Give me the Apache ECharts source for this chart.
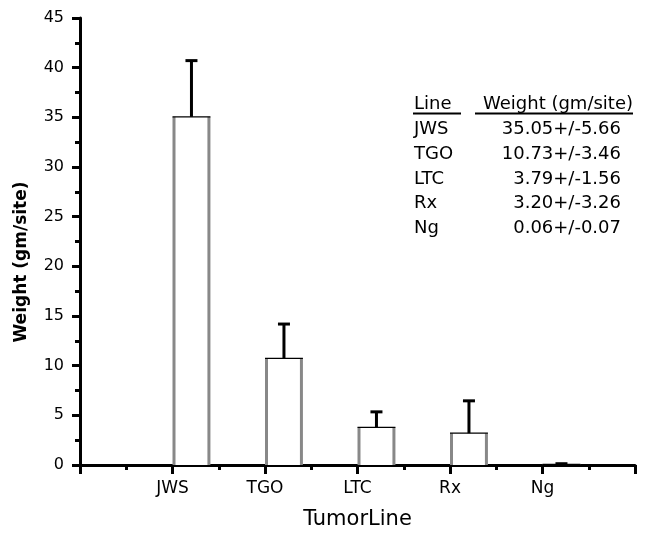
<!DOCTYPE html>
<html>
<head>
<meta charset="utf-8">
<script src="https://cdn.jsdelivr.net/npm/echarts@6/dist/echarts.min.js"></script>
<style>html,body{margin:0;padding:0;background:#fff;}#c{width:646px;height:535px;}</style>
</head>
<body>
<div id="c"></div>
<script>
var categories = ['JWS', 'TGO', 'LTC', 'Rx', 'Ng'];
var means = [35.05, 10.73, 3.79, 3.20, 0.06];
var errors = [5.66, 3.46, 1.56, 3.26, 0.07];
var yTicks = [0, 5, 10, 15, 20, 25, 30, 35, 40, 45];
var xTitle = 'TumorLine';
var yTitle = 'Weight (gm/site)';
var tableHeader = ['Line', 'Weight (gm/site)'];

var FONT = 'DejaVu Sans';
var chart = echarts.init(document.getElementById('c'), null, {renderer: 'canvas'});

var seriesData = categories.map(function (c, i) { return [i + 1, means[i], errors[i]]; });

function renderBar(params, api) {
  var xv = api.value(0), m = api.value(1), e = api.value(2);
  var base = api.coord([xv, 0]);
  var top = api.coord([xv, m]);
  var errTop = api.coord([xv, m + e]);
  var w = api.size([0.41, 0])[0];
  var x0 = base[0] + 1.5, x1 = base[0] + w - 1.5;
  var cx = base[0] + w / 2;
  return {
    type: 'group',
    children: [
      {type: 'rect', shape: {x: x0, y: top[1], width: x1 - x0, height: base[1] - top[1]}, style: {fill: '#fff'}},
      {type: 'line', shape: {x1: x0, y1: top[1], x2: x0, y2: base[1]}, style: {stroke: '#888', lineWidth: 3}},
      {type: 'line', shape: {x1: x1, y1: top[1], x2: x1, y2: base[1]}, style: {stroke: '#888', lineWidth: 3}},
      {type: 'line', shape: {x1: cx, y1: top[1], x2: cx, y2: errTop[1]}, style: {stroke: '#000', lineWidth: 3}},
      {type: 'line', shape: {x1: cx - 6, y1: errTop[1], x2: cx + 6, y2: errTop[1]}, style: {stroke: '#000', lineWidth: 3}},
      {type: 'line', shape: {x1: x0 - 1.5, y1: top[1], x2: x1 + 1.5, y2: top[1]}, style: {stroke: '#000', lineWidth: 1.2}}
    ]
  };
}

var graphics = [];
graphics.push({type: 'text', x: 22, y: 262, rotation: Math.PI / 2,
  style: {text: yTitle, font: 'bold 17px "DejaVu Sans"', fill: '#000', textAlign: 'center', textVerticalAlign: 'middle'}});
graphics.push({type: 'text', x: 414, y: 104,
  style: {text: tableHeader[0], font: '18px "DejaVu Sans"', fill: '#000', textAlign: 'left', textVerticalAlign: 'middle'}});
graphics.push({type: 'text', x: 633, y: 104,
  style: {text: tableHeader[1], font: '18px "DejaVu Sans"', fill: '#000', textAlign: 'right', textVerticalAlign: 'middle'}});
graphics.push({type: 'line', shape: {x1: 413, y1: 113.5, x2: 461, y2: 113.5}, style: {stroke: '#000', lineWidth: 2}});
graphics.push({type: 'line', shape: {x1: 475, y1: 113.5, x2: 633, y2: 113.5}, style: {stroke: '#000', lineWidth: 2}});
categories.forEach(function (c, i) {
  var y = 129.5 + i * 24.7;
  graphics.push({type: 'text', x: 414, y: y,
    style: {text: c, font: '18px "DejaVu Sans"', fill: '#000', textAlign: 'left', textVerticalAlign: 'middle'}});
  graphics.push({type: 'text', x: 621, y: y,
    style: {text: means[i].toFixed(2) + '+/-' + errors[i].toFixed(2), font: '18px "DejaVu Sans"', fill: '#000', textAlign: 'right', textVerticalAlign: 'middle'}});
});

chart.setOption({
  animation: false,
  backgroundColor: '#fff',
  grid: {left: 80, right: 11, top: 18, bottom: 68, containLabel: false},
  xAxis: {
    type: 'value', min: 0, max: 6, interval: 1,
    name: xTitle, nameLocation: 'middle', nameGap: 44,
    nameTextStyle: {fontFamily: FONT, fontSize: 21, color: '#000'},
    axisLine: {show: true, onZero: false, lineStyle: {color: '#000', width: 3}},
    axisTick: {show: true, length: 9, lineStyle: {color: '#000', width: 3}},
    minorTick: {show: true, splitNumber: 2, length: 5, lineStyle: {color: '#000', width: 3}},
    splitLine: {show: false},
    axisLabel: {
      fontFamily: FONT, fontSize: 17, color: '#000', margin: 15,
      formatter: function (v) { return categories[v - 1] || ''; }
    }
  },
  yAxis: {
    type: 'value', min: yTicks[0], max: yTicks[yTicks.length - 1], interval: 5,
    axisLine: {show: true, lineStyle: {color: '#000', width: 3}},
    axisTick: {show: true, length: 8, lineStyle: {color: '#000', width: 3}},
    minorTick: {show: true, splitNumber: 2, length: 5, lineStyle: {color: '#000', width: 3}},
    splitLine: {show: false},
    axisLabel: {fontFamily: FONT, fontSize: 16, color: '#000', margin: 16}
  },
  series: [{
    type: 'custom',
    renderItem: renderBar,
    data: seriesData,
    encode: {x: 0, y: 1},
    clip: false
  }],
  graphic: graphics
});
</script>
</body>
</html>
